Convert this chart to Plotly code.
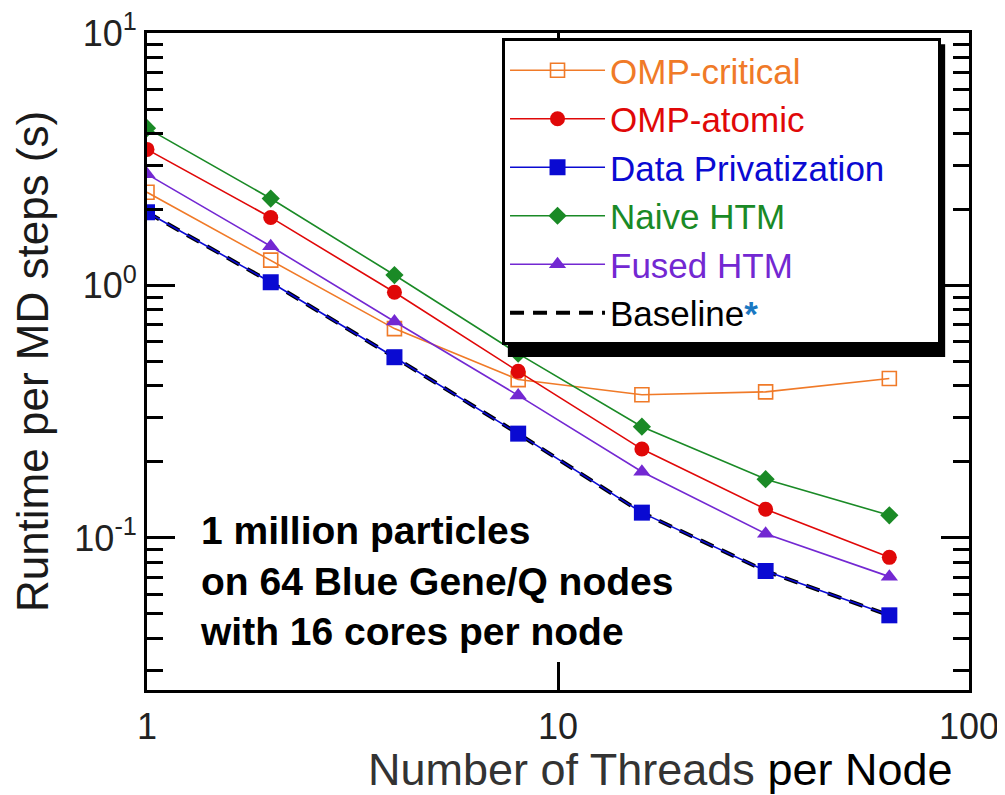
import plotly.graph_objects as go

# ---- data ----
threads = [1, 2, 4, 8, 16, 32, 64]
omp_critical = [2.34, 1.26, 0.675, 0.424, 0.369, 0.379, 0.428]
omp_atomic = [3.46, 1.86, 0.94, 0.457, 0.225, 0.130, 0.0838]
data_priv = [1.95, 1.03, 0.52, 0.259, 0.126, 0.074, 0.0494]
naive_htm = [4.20, 2.21, 1.10, 0.537, 0.276, 0.171, 0.123]
fused_htm = [2.76, 1.43, 0.72, 0.367, 0.183, 0.104, 0.0703]
baseline = [1.95, 1.03, 0.52, 0.259, 0.126, 0.074, 0.0494]

y_tickvals = [0.1, 1, 10]
y_ticktext = ["10<sup>-1</sup>", "10<sup>0</sup>", "10<sup>1</sup>"]
y_minor = [0.03, 0.04, 0.05, 0.06, 0.07, 0.08, 0.09,
           0.2, 0.3, 0.4, 0.5, 0.6, 0.7, 0.8, 0.9,
           2, 3, 4, 5, 6, 7, 8, 9]
x_tickvals = [1, 10, 100]
x_ticktext = ["1", "10", "100"]

FONT = "Liberation Sans, Arial, Helvetica, sans-serif"
C_ORANGE = "#f07a28"
C_RED = "#e00808"
C_BLUE = "#0a0ad2"
C_GREEN = "#1a8a26"
C_PURPLE = "#7328d2"

fig = go.Figure()

# baseline first so the series are drawn over it
fig.add_trace(go.Scatter(
    x=threads, y=baseline, mode="lines",
    name='<span style="color:#000000">Baseline</span><span style="color:#1a78c2"><b>*</b></span>',
    line=dict(color="black", width=4, dash="14px,9px"),
    legendrank=6))

series = [
    ("OMP-critical", omp_critical, C_ORANGE, dict(symbol="square-open", size=14, line=dict(width=1.6, color=C_ORANGE)), 1, ""),
    ("OMP-atomic", omp_atomic, C_RED, dict(symbol="circle", size=15), 2, ""),
    ("Data Privatization", data_priv, C_BLUE, dict(symbol="square", size=16), 3, "&nbsp;" * 5),
    ("Naive HTM", naive_htm, C_GREEN, dict(symbol="diamond", size=14), 4, ""),
    ("Fused HTM", fused_htm, C_PURPLE, dict(symbol="triangle-up", size=15), 5, ""),
]
for name, vals, col, mk, rank, pad in series:
    mk = dict(mk)
    mk["color"] = col
    fig.add_trace(go.Scatter(
        x=threads, y=vals, mode="lines+markers",
        name=f'<span style="color:{col}">{name}</span>{pad}',
        line=dict(color=col, width=1.6),
        marker=mk, legendrank=rank))

axis_common = dict(
    type="log", showline=True, linecolor="black", linewidth=3,
    mirror="allticks", ticks="inside", tickcolor="black", tickwidth=3,
    showgrid=False, zeroline=False, automargin=False,
    ticklabeloverflow="allow",
    tickfont=dict(family=FONT, size=36, color="#222222"),
)

fig.update_xaxes(
    **axis_common, range=[0, 2], ticklen=28,
    tickmode="array", tickvals=x_tickvals, ticktext=x_ticktext,
    ticklabelstandoff=3,
)
fig.update_yaxes(
    **axis_common, range=[-1.60206, 1], ticklen=28,
    tickmode="array", tickvals=y_tickvals, ticktext=y_ticktext,
    minor=dict(tickmode="array", tickvals=y_minor, ticks="inside",
               ticklen=16, tickwidth=3, tickcolor="black"),
    ticklabelstandoff=0,
    title=dict(text="Runtime per MD steps (s)",
               font=dict(family=FONT, size=44, color="#1a1a1a"), standoff=12),
)

# x-axis title (placed to match the reference, right part of the figure)
fig.add_annotation(
    xref="paper", yref="paper", x=0.983, y=-0.121, xanchor="right", yanchor="middle",
    text='<span style="color:#333333">Number of Threads</span> <span style="color:#000000">per Node</span>',
    showarrow=False, font=dict(family=FONT, size=45))

# annotation text in the plot
fig.add_annotation(
    xref="paper", yref="paper", x=0.062, y=0.279, xanchor="left", yanchor="top",
    align="left", showarrow=False,
    text="<b>1 million particles<br>on 64 Blue Gene/Q nodes<br>with 16 cores per node</b>",
    font=dict(family=FONT, size=39, color="black"))

# legend drop shadow
fig.add_shape(type="rect", xref="paper", yref="paper",
              x0=0.439, x1=0.971, y0=0.507, y1=0.983,
              fillcolor="black", line=dict(width=0), layer="above")

fig.update_layout(
    width=1005, height=795,
    margin=dict(l=139, r=44, t=25, b=113),
    paper_bgcolor="white", plot_bgcolor="white",
    font=dict(family=FONT, color="black"),
    legend=dict(
        x=0.4319, y=0.9924, xanchor="left", yanchor="top",
        bgcolor="white", bordercolor="black", borderwidth=3,
        font=dict(family=FONT, size=35),
        tracegroupgap=0, itemwidth=95,
    ),
    showlegend=True,
)

fig.write_html("out.html")
